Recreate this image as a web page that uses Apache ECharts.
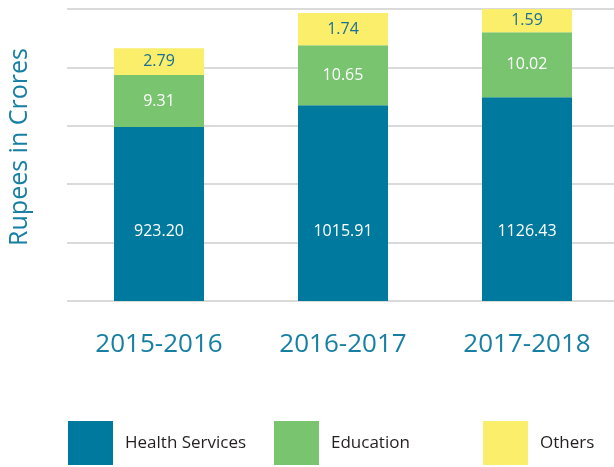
<!DOCTYPE html>
<html>
<head>
<meta charset="utf-8">
<script src="https://cdn.jsdelivr.net/npm/echarts@6/dist/echarts.min.js"></script>
<style>
  html, body { margin: 0; padding: 0; background: #fff; }
  #main { width: 614px; height: 467px; }
</style>
</head>
<body>
<div id="main"></div>
<script>
// categories
const years = ['2015-2016', '2016-2017', '2017-2018'];

// reported values (printed on the bars)
const healthValues = [923.20, 1015.91, 1126.43];
const educationValues = [9.31, 10.65, 10.02];
const otherValues = [2.79, 1.74, 1.59];

// segment heights as drawn in the picture, in gridline units (the source is not to scale)
const healthHeights = [2.98, 3.35, 3.49];
const educationHeights = [0.89, 1.03, 1.11];
const otherHeights = [0.46, 0.55, 0.43];

const seriesNames = ['Health Services', 'Education', 'Others'];
const colors = ['#00799f', '#78c46f', '#faee6a'];

let chart = echarts.init(document.getElementById('main'));

function seg(name, heights, values, color, labelColor, labelPos, labelDist) {
    return {
        name: name,
        type: 'bar',
        stack: 'total',
        barWidth: 90,
        itemStyle: { color: color },
        label: {
            show: true,
            position: labelPos,
            distance: labelDist,
            color: labelColor,
            fontFamily: 'Open Sans',
            fontSize: 16,
            formatter: p => values[p.dataIndex].toFixed(2)
        },
        data: heights
    };
}

function legendAt(left, name) {
    return {
        left: left,
        top: 421,
        padding: 0,
        itemWidth: 45,
        itemHeight: 44,
        icon: 'rect',
        selectedMode: false,
        data: [name],
        textStyle: {
            fontFamily: 'Open Sans',
            fontSize: 17,
            color: '#231f20',
            padding: [0, 0, 0, 7]
        }
    };
}

let option = {
    animation: false,
    color: colors,
    grid: { left: 67, right: -5, top: 9, bottom: 166, outerBoundsMode: 'none' },
    legend: [
        legendAt(68, seriesNames[0]),
        legendAt(274, seriesNames[1]),
        legendAt(483, seriesNames[2])
    ],
    xAxis: {
        type: 'category',
        data: years,
        axisLine: { show: false },
        axisTick: { show: false },
        axisLabel: {
            margin: 31,
            color: '#167fa3',
            fontFamily: 'Open Sans',
            fontSize: 26
        }
    },
    yAxis: {
        type: 'value',
        min: 0,
        max: 5,
        interval: 1,
        name: 'Rupees in Crores',
        nameLocation: 'middle',
        nameGap: 35,
        nameTextStyle: {
            color: '#167fa3',
            fontFamily: 'Open Sans',
            fontSize: 25,
            padding: [0, 0, 0, 16]
        },
        axisLabel: { show: false },
        axisLine: { show: false },
        axisTick: { show: false },
        splitLine: { lineStyle: { color: '#dadada', width: 2 } }
    },
    series: [
        seg(seriesNames[0], healthHeights, healthValues, colors[0], '#ffffff', 'insideBottom', 62),
        seg(seriesNames[1], educationHeights, educationValues, colors[1], '#ffffff', 'inside', 5),
        seg(seriesNames[2], otherHeights, otherValues, colors[2], '#1a6f94', 'inside', 5)
    ]
};

option && chart.setOption(option);
</script>
</body>
</html>
